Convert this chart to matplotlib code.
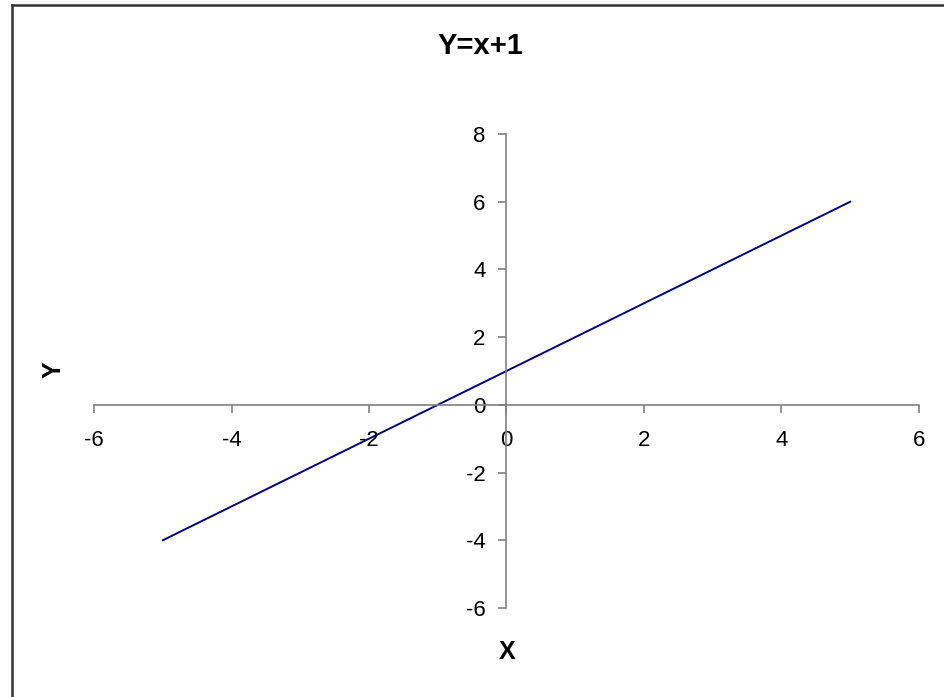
import matplotlib
matplotlib.use('Agg')
import matplotlib.pyplot as plt
from matplotlib.lines import Line2D

plt.rcParams['font.family'] = ['Liberation Sans', 'DejaVu Sans']
plt.rcParams['axes.unicode_minus'] = False

# data points of the plotted line
x = [-5, -4.5, -4, -3.5, -3, -2.5, -2, -1.5, -1, -0.5, 0,
     0.5, 1, 1.5, 2, 2.5, 3, 3.5, 4, 4.5, 5]
y = [-4, -3.5, -3, -2.5, -2, -1.5, -1, -0.5, 0, 0.5, 1,
     1.5, 2, 2.5, 3, 3.5, 4, 4.5, 5, 5.5, 6]
xticks = [-6, -4, -2, 0, 2, 4, 6]
yticks = [-6, -4, -2, 0, 2, 4, 6, 8]

fig = plt.figure(figsize=(9.44, 6.97), dpi=100)
ax = fig.add_axes([94/944, 89/697, 825/944, 474/697])

ax.plot(x, y, color='#000080', linewidth=1.4)

ax.set_xlim(-6, 6)
ax.set_ylim(-6, 8)
ax.set_xticks(xticks)
ax.set_yticks(yticks)

for s in ['top', 'right']:
    ax.spines[s].set_visible(False)
ax.spines['left'].set_position(('data', 0))
ax.spines['bottom'].set_position(('data', 0))
for s in ['left', 'bottom']:
    ax.spines[s].set_color('#808080')
    ax.spines[s].set_linewidth(1.2)

ax.tick_params(axis='x', direction='out', length=6, width=1.2, color='#808080',
               labelsize=16, pad=12)
ax.tick_params(axis='y', direction='out', length=6, width=1.2, color='#808080',
               labelsize=16, pad=9)

fig.text(480/944, 1 - 46/697, 'Y=x+1', ha='center', va='center',
         fontsize=21, fontweight='bold')
fig.text(54/944, 1 - 370/697, 'Y', ha='center', va='center', rotation=90,
         fontsize=18, fontweight='bold')
fig.text(507/944, 1 - 652/697, 'X', ha='center', va='center',
         fontsize=18, fontweight='bold')

# outer frame (left and top edges visible)
fig.add_artist(Line2D([11.5/944, 11.5/944], [0, 1 - 5/697], transform=fig.transFigure,
                      color='#333333', linewidth=1.8))
fig.add_artist(Line2D([11.5/944, 1], [1 - 5/697, 1 - 5/697], transform=fig.transFigure,
                      color='#333333', linewidth=1.8))

fig.savefig('out.png', dpi=100)
